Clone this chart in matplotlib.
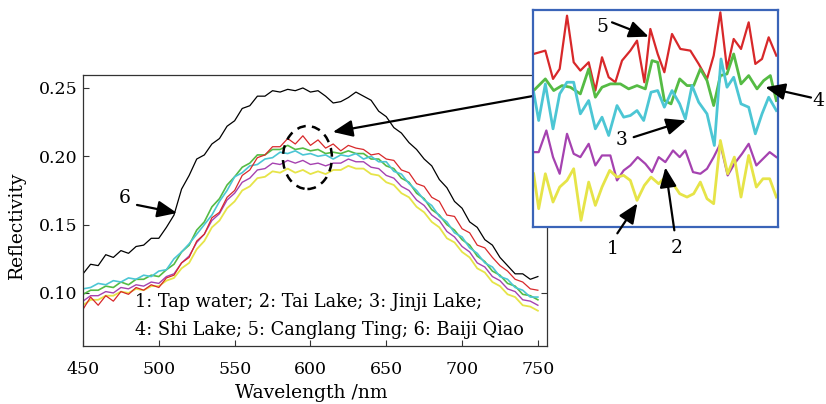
import numpy as np
import matplotlib
matplotlib.use("Agg")
import matplotlib.pyplot as plt
from matplotlib.patches import Ellipse

plt.rcParams['font.family'] = ['DejaVu Serif']

# wavelength grid (nm), read every 5 nm
wavelength = np.arange(450, 751, 5)

# reflectivity curves
baiji_qiao = [0.114, 0.121, 0.120, 0.128, 0.126, 0.131, 0.129, 0.134, 0.135, 0.140, 0.140, 0.148, 0.157, 0.176, 0.186, 0.198,
              0.201, 0.209, 0.213, 0.222, 0.226, 0.235, 0.237, 0.244, 0.244, 0.248, 0.247, 0.249, 0.248, 0.250, 0.247, 0.248,
              0.244, 0.239, 0.240, 0.243, 0.247, 0.244, 0.241, 0.233, 0.229, 0.221, 0.217, 0.210, 0.205, 0.198, 0.193, 0.183,
              0.177, 0.167, 0.162, 0.152, 0.148, 0.139, 0.135, 0.126, 0.120, 0.114, 0.114, 0.110, 0.112]
jinji_lake = [0.103, 0.104, 0.107, 0.106, 0.109, 0.108, 0.111, 0.110, 0.113, 0.112, 0.116, 0.117, 0.125, 0.130, 0.136, 0.143,
              0.150, 0.157, 0.167, 0.175, 0.185, 0.188, 0.193, 0.194, 0.198, 0.199, 0.203, 0.202, 0.204, 0.201, 0.202, 0.200,
              0.201, 0.198, 0.201, 0.200, 0.202, 0.198, 0.200, 0.196, 0.196, 0.189, 0.187, 0.180, 0.175, 0.168, 0.164, 0.156,
              0.152, 0.144, 0.141, 0.133, 0.129, 0.122, 0.119, 0.112, 0.110, 0.104, 0.102, 0.097, 0.097]
shi_lake = [0.099, 0.102, 0.102, 0.105, 0.104, 0.108, 0.106, 0.110, 0.110, 0.113, 0.112, 0.117, 0.121, 0.130, 0.135, 0.146,
            0.152, 0.163, 0.169, 0.179, 0.185, 0.192, 0.195, 0.201, 0.201, 0.205, 0.205, 0.208, 0.205, 0.206, 0.204, 0.205,
            0.202, 0.203, 0.202, 0.204, 0.202, 0.202, 0.198, 0.198, 0.193, 0.191, 0.184, 0.181, 0.173, 0.169, 0.161, 0.157,
            0.150, 0.146, 0.139, 0.135, 0.127, 0.123, 0.116, 0.113, 0.107, 0.105, 0.099, 0.098, 0.095]
canglang_ting = [0.088, 0.097, 0.091, 0.098, 0.094, 0.101, 0.099, 0.104, 0.102, 0.106, 0.104, 0.111, 0.113, 0.122, 0.126, 0.138,
                 0.143, 0.155, 0.159, 0.170, 0.175, 0.186, 0.190, 0.199, 0.201, 0.207, 0.207, 0.213, 0.209, 0.215, 0.208, 0.212,
                 0.206, 0.209, 0.204, 0.208, 0.206, 0.205, 0.201, 0.202, 0.198, 0.197, 0.190, 0.188, 0.180, 0.178, 0.170, 0.167,
                 0.157, 0.156, 0.147, 0.144, 0.135, 0.133, 0.126, 0.120, 0.116, 0.110, 0.108, 0.103, 0.102]
tai_lake = [0.094, 0.098, 0.098, 0.101, 0.100, 0.104, 0.103, 0.106, 0.105, 0.108, 0.107, 0.112, 0.114, 0.122, 0.127, 0.137,
            0.143, 0.153, 0.158, 0.168, 0.173, 0.181, 0.184, 0.190, 0.191, 0.195, 0.194, 0.197, 0.195, 0.197, 0.194, 0.195,
            0.193, 0.195, 0.195, 0.198, 0.196, 0.196, 0.192, 0.191, 0.186, 0.184, 0.178, 0.175, 0.168, 0.164, 0.157, 0.153,
            0.145, 0.141, 0.134, 0.130, 0.122, 0.119, 0.112, 0.109, 0.103, 0.101, 0.095, 0.094, 0.091]
tap_water = [0.091, 0.095, 0.095, 0.098, 0.098, 0.101, 0.100, 0.103, 0.102, 0.105, 0.105, 0.109, 0.111, 0.118, 0.122, 0.132,
             0.138, 0.148, 0.153, 0.162, 0.167, 0.175, 0.178, 0.184, 0.185, 0.189, 0.188, 0.191, 0.188, 0.190, 0.187, 0.189,
             0.187, 0.190, 0.190, 0.193, 0.191, 0.191, 0.187, 0.186, 0.181, 0.179, 0.173, 0.170, 0.163, 0.159, 0.152, 0.148,
             0.140, 0.137, 0.130, 0.126, 0.118, 0.115, 0.108, 0.105, 0.099, 0.097, 0.091, 0.090, 0.087]

# zoomed window (arbitrary magnified units, y grows downward)
inset_red_x = [40, 75, 98, 118, 140, 160, 180, 205, 225, 245, 265, 285, 305, 330, 350, 372, 390, 412, 432, 455, 480, 510,
               535, 560, 580, 600, 620, 640, 662, 685, 705, 725, 745, 768]
inset_red_y = [160, 150, 235, 205, 45, 185, 210, 185, 270, 170, 230, 245, 180, 150, 120, 245, 85, 160, 215, 100, 145, 150,
               190, 235, 165, 35, 205, 115, 145, 65, 190, 175, 110, 165]
inset_green_x = [40, 75, 100, 125, 150, 180, 205, 225, 245, 270, 300, 325, 350, 375, 395, 412, 432, 452, 478, 500, 520,
                 540, 560, 580, 600, 620, 640, 662, 685, 710, 730, 750, 768]
inset_green_y = [270, 235, 270, 255, 260, 280, 205, 290, 260, 250, 250, 265, 255, 265, 180, 185, 300, 310, 235, 255, 255,
                 205, 240, 315, 225, 220, 160, 250, 225, 265, 240, 225, 300]
inset_cyan_x = [40, 55, 75, 98, 118, 140, 160, 180, 205, 225, 245, 265, 290, 310, 330, 350, 370, 392, 412, 432, 455, 478,
                495, 515, 535, 560, 582, 602, 620, 640, 662, 685, 705, 725, 745, 768]
inset_cyan_y = [275, 360, 250, 385, 280, 245, 245, 340, 300, 385, 350, 405, 315, 350, 345, 330, 360, 275, 270, 320, 270, 310,
                355, 255, 305, 340, 435, 175, 260, 230, 310, 320, 400, 340, 290, 330]
inset_magenta_x = [40, 55, 78, 98, 118, 140, 160, 180, 205, 225, 245, 270, 290, 310, 330, 352, 375, 395, 415, 435, 458, 478,
                   495, 518, 540, 560, 580, 600, 622, 642, 665, 685, 708, 728, 748, 768]
inset_magenta_y = [455, 455, 390, 470, 520, 400, 460, 470, 430, 495, 465, 465, 540, 510, 495, 470, 490, 515, 470, 485, 450,
                   470, 450, 515, 520, 505, 470, 430, 525, 490, 460, 430, 495, 475, 455, 470]
inset_yellow_x = [40, 55, 75, 98, 118, 140, 160, 182, 205, 225, 245, 268, 290, 310, 330, 350, 372, 392, 415, 435, 458, 478,
                  500, 520, 540, 560, 580, 600, 622, 642, 662, 685, 708, 728, 748, 768]
inset_yellow_y = [520, 625, 520, 605, 560, 540, 505, 660, 545, 615, 560, 510, 530, 525, 540, 600, 555, 530, 550, 530, 550,
                  580, 590, 580, 545, 595, 610, 420, 520, 470, 590, 465, 560, 535, 535, 590]

RED, GREEN, CYAN, MAGENTA, YELLOW = '#d8282a', '#55bb44', '#4cc6d4', '#a542b0', '#e6e448'

fig = plt.figure(figsize=(8.26, 4.04), dpi=100)
ax = fig.add_axes([0.1005, 0.1436, 0.5617, 0.6708])

ax.plot(wavelength, baiji_qiao, color='black', lw=0.9)
ax.plot(wavelength, tap_water, color=YELLOW, lw=1.3)
ax.plot(wavelength, tai_lake, color=MAGENTA, lw=1.0)
ax.plot(wavelength, shi_lake, color=GREEN, lw=1.2)
ax.plot(wavelength, jinji_lake, color=CYAN, lw=1.2)
ax.plot(wavelength, canglang_ting, color=RED, lw=0.9)

ax.set_xlim(450, 756)
ax.set_ylim(0.0612, 0.2595)
ax.set_xticks([450, 500, 550, 600, 650, 700, 750])
ax.set_yticks([0.10, 0.15, 0.20, 0.25])
ax.set_yticklabels(['0.10', '0.15', '0.20', '0.25'])
ax.tick_params(axis='both', direction='in', length=4, width=0.8, labelsize=12.5, color='#333333')
ax.tick_params(axis='x', pad=11)
ax.tick_params(axis='y', pad=4, right=True)
for s in ax.spines.values():
    s.set_linewidth(0.9)
    s.set_color('#333333')

ax.set_xlabel('Wavelength /nm', fontsize=13.5, va='center')
ax.set_ylabel('Reflectivity', fontsize=13.5, va='center')
ax.xaxis.set_label_coords(0.491, -0.173)
ax.yaxis.set_label_coords(-0.142, 0.446)

ax.text(484.3, 0.0934, '1: Tap water; 2: Tai Lake; 3: Jinji Lake;', fontsize=12.8, va='center', ha='left')
ax.text(484.3, 0.0729, '4: Shi Lake; 5: Canglang Ting; 6: Baiji Qiao', fontsize=12.8, va='center', ha='left')

arrow = dict(arrowstyle='-|>,head_length=0.75,head_width=0.32', color='black', lw=1.6, mutation_scale=16,
             shrinkA=0, shrinkB=0)

# label 6
ax.text(477.7, 0.1695, '6', fontsize=13.5, ha='center', va='center')
ax.annotate('', xy=(512, 0.1585), xytext=(485.6, 0.1644), arrowprops=arrow)

# dashed circle around the zoomed region
ax.add_patch(Ellipse((598, 0.1991), 32.3, 0.0461, fill=False, ls=(0, (3.5, 2.5)), lw=1.8, color='black', zorder=5))
ax.annotate('', xy=(614.8, 0.2178), xytext=(746.7, 0.2441), arrowprops=arrow, annotation_clip=False, zorder=6)

# inset
axi = fig.add_axes([0.6453, 0.4381, 0.2966, 0.5371], zorder=3)
axi.set_facecolor('white')
axi.plot(inset_red_x, inset_red_y, color=RED, lw=1.6)
axi.plot(inset_green_x, inset_green_y, color=GREEN, lw=2.0)
axi.plot(inset_cyan_x, inset_cyan_y, color=CYAN, lw=2.0)
axi.plot(inset_magenta_x, inset_magenta_y, color=MAGENTA, lw=1.6)
axi.plot(inset_yellow_x, inset_yellow_y, color=YELLOW, lw=2.0)
axi.set_xlim(38, 773)
axi.set_ylim(680, 28)
axi.set_xticks([])
axi.set_yticks([])
for s in axi.spines.values():
    s.set_color('#3a64b8')
    s.set_linewidth(1.6)

labels = [('5', (245, 78), (275, 65), (385, 108)),
          ('3', (305, 420), (340, 410), (497, 360)),
          ('4', (894, 300), (872, 291), (735, 260)),
          ('1', (276, 747), (291, 699), (351, 609)),
          ('2', (468, 744), (462, 690), (435, 501))]
for txt, pos, tail, head in labels:
    axi.text(pos[0], pos[1], txt, fontsize=13.5, ha='center', va='center', clip_on=False)
    axi.annotate('', xy=head, xytext=tail, arrowprops=arrow, annotation_clip=False)

fig.savefig('out.png', dpi=100, facecolor='white')
